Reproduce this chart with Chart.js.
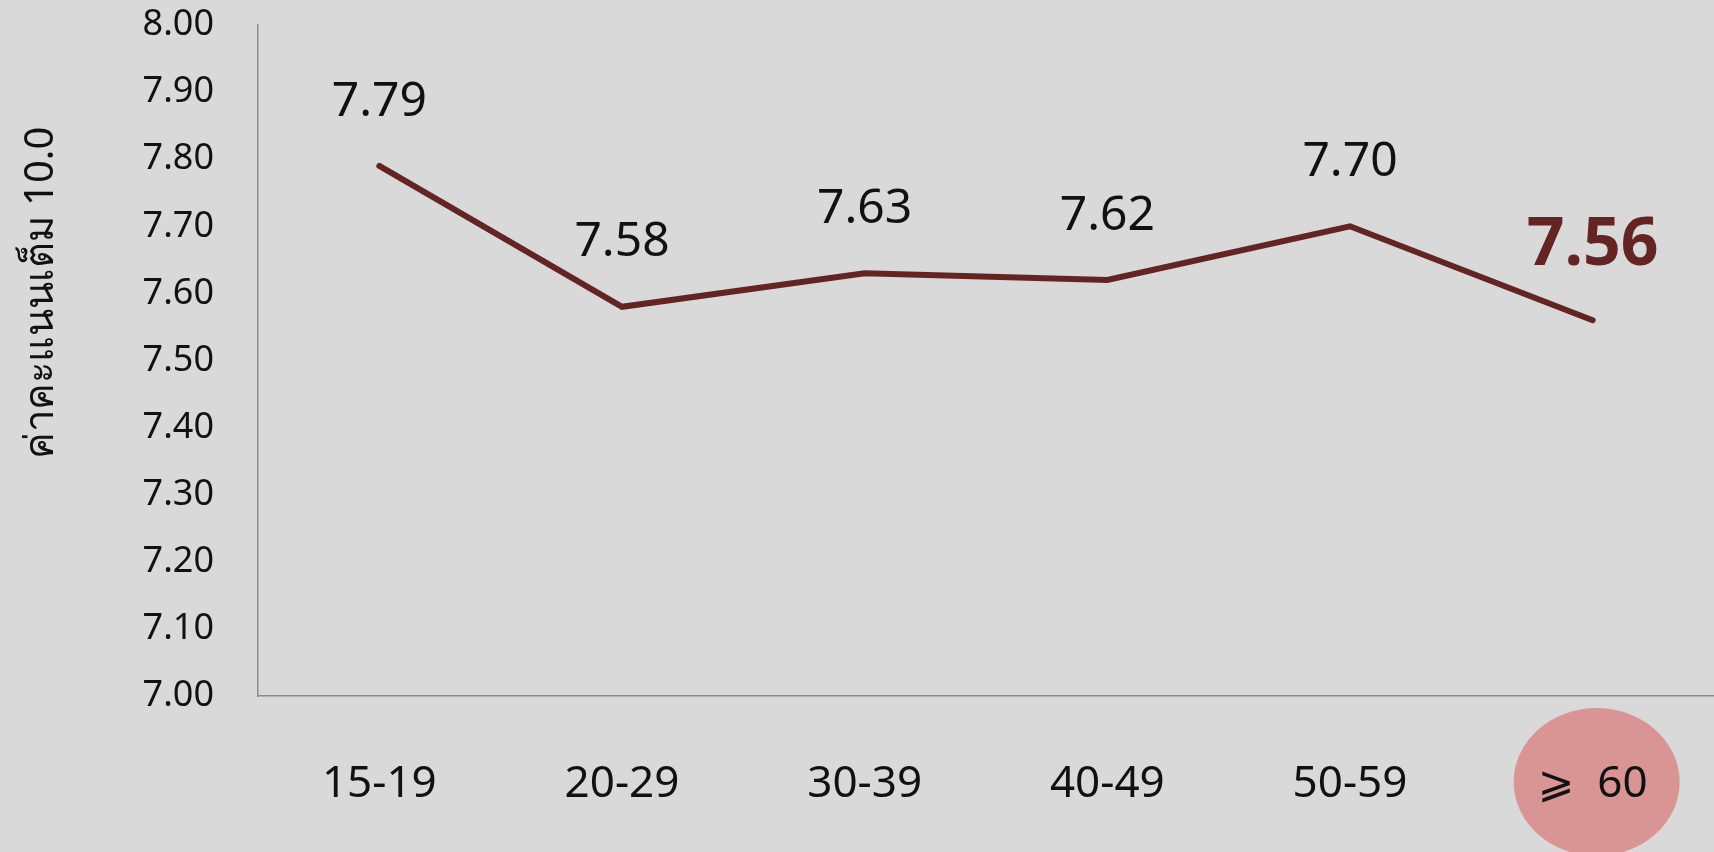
<!DOCTYPE html>
<html lang="th">
<head>
<meta charset="utf-8">
<script src="https://cdn.jsdelivr.net/npm/chart.js@4.4.1/dist/chart.umd.min.js"></script>
<style>
html,body{margin:0;padding:0;background:#d9d9d9;overflow:hidden}
#wrap{width:1714px;height:852px;position:relative}
</style>
</head>
<body>
<div id="wrap"><canvas id="c"></canvas></div>
<script>
'use strict';
// ค่าคะแนนเฉลี่ยตามช่วงอายุ (เต็ม 10.0)
const AGES = ['15-19', '20-29', '30-39', '40-49', '50-59', '\u2A7E  60'];
const SCORES = [7.79, 7.58, 7.63, 7.62, 7.70, 7.56];
const Y_TITLE = 'ค่าคะแนนเต็ม 10.0';
const HILITE = 5; // กลุ่ม ≥ 60 ที่เน้นไว้
const LINE_COL = '#632423', PINK = '#d99594';
const FONT = '"Noto Sans", "DejaVu Sans", sans-serif';

// วงรีสีชมพูหลังป้าย ≥ 60
const hiliteBubble = {
  id: 'hiliteBubble',
  beforeDraw(chart) {
    const xs = chart.scales.x, ctx = chart.ctx;
    ctx.save();
    ctx.fillStyle = PINK;
    ctx.beginPath();
    ctx.ellipse(xs.getPixelForValue(HILITE) + 4, xs.top + 86, 83, 74, 0, 0, Math.PI * 2);
    ctx.fill();
    ctx.restore();
  }
};

// ตัวเลขเหนือจุด + ชื่อแกน y
const valueLabels = {
  id: 'valueLabels',
  afterDatasetsDraw(chart) {
    const ctx = chart.ctx, pts = chart.getDatasetMeta(0).data;
    ctx.save();
    ctx.textAlign = 'center'; ctx.textBaseline = 'middle';
    pts.forEach((p, i) => {
      const hi = i === HILITE;
      ctx.font = (hi ? 'bold 66px ' : '48px ') + FONT;
      ctx.fillStyle = hi ? LINE_COL : '#111';
      ctx.fillText(SCORES[i].toFixed(2), p.x, p.y - (hi ? 74 : 64));
    });
    // y title, pushed up a bit like the original
    ctx.translate(42, 293);
    ctx.rotate(-Math.PI / 2);
    ctx.font = '40px ' + FONT;
    ctx.fillStyle = '#111';
    ctx.fillText(Y_TITLE, 0, 0);
    ctx.restore();
  }
};

new Chart(document.getElementById('c').getContext('2d'), {
  type: 'line',
  data: {
    labels: AGES,
    datasets: [{ data: SCORES, borderColor: LINE_COL, borderWidth: 6, borderCapStyle: 'round', borderJoinStyle: 'miter', pointRadius: 0, tension: 0, fill: false }]
  },
  options: {
    responsive: true, maintainAspectRatio: false, animation: false,
    layout: { padding: { top: 25, right: 0, bottom: 0, left: 0 } },
    plugins: { legend: { display: false }, tooltip: { enabled: false } },
    scales: {
      x: {
        offset: true,
        grid: { display: false, drawTicks: false },
        border: { color: '#8c8c8c', width: 1.5 },
        ticks: { color: '#111', font: { family: FONT, size: 44 }, padding: 62, maxRotation: 0 },
        afterFit: s => { s.height = 156; s.paddingLeft = 0; s.paddingRight = 0; }
      },
      y: {
        min: 7, max: 8,
        grid: { display: false, drawTicks: false },
        border: { color: '#8c8c8c', width: 1.5 },
        ticks: { stepSize: 0.1, color: '#111', font: { family: FONT, size: 36 }, padding: 44, callback: v => v.toFixed(2) },
        afterFit: s => { s.width = 258; s.paddingTop = 0; s.paddingBottom = 0; }
      }
    }
  },
  plugins: [hiliteBubble, valueLabels]
});
</script>
</body>
</html>
